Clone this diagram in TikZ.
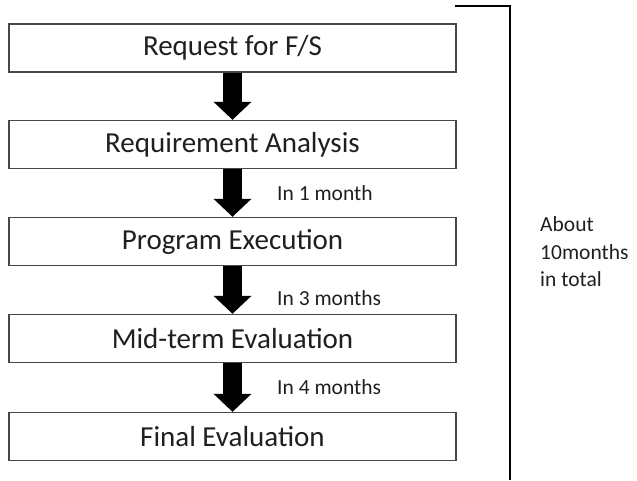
\documentclass[tikz,border=0pt]{standalone}
\usepackage{fontspec}
\setmainfont{Carlito}
\usetikzlibrary{arrows.meta}

\tikzset{
  stagebox/.style={draw=black!72, line width=1.4pt, fill=white,
    minimum width=447pt, minimum height=48pt, inner sep=0pt,
    font=\fontsize{29}{34}\selectfont, text=black!88},
  flowarrow/.style={line width=19pt, black,
    -{Triangle[width=37pt,length=18pt]}},
  duration/.style={anchor=west, inner sep=0pt,
    font=\fontsize{21.5}{26}\selectfont, text=black!88},
  bracketline/.style={line width=1.4pt, black}
}

\begin{document}
\begin{tikzpicture}[x=1pt,y=-1pt]
  \useasboundingbox (0,0) rectangle (637,480);

  % process stages
  \node[stagebox] (req)  at (232.5,48)    {Request for F/S};
  \node[stagebox] (ana)  at (232.5,144.5) {Requirement Analysis};
  \node[stagebox] (exe)  at (232.5,241.5) {Program Execution};
  \node[stagebox] (mid)  at (232.5,338.5) {Mid-term Evaluation};
  \node[stagebox] (fin)  at (232.5,436.5) {Final Evaluation};

  % block arrows between stages
  \draw[flowarrow] (req.south) -- (ana.north);
  \draw[flowarrow] (ana.south) -- (exe.north);
  \draw[flowarrow] (exe.south) -- (mid.north);
  \draw[flowarrow] (mid.south) -- (fin.north);

  % durations
  \node[duration] (d1) at (277,193) {In 1 month};
  \node[duration] (d2) at (277,298) {In 3 months};
  \node[duration] (d3) at (277,387) {In 4 months};

  % total-span bracket
  \coordinate (btl) at (455,6);
  \coordinate (btr) at (510,6);
  \coordinate (bbot) at (510,480);
  \draw[bracketline] (btl) -- (btr) -- (bbot);

  \node[anchor=west, inner sep=0pt, align=left,
        font=\fontsize{21.5}{27.5}\selectfont, text=black!88]
        (total) at (540,252) {About\\10months\\in total};
\end{tikzpicture}
\end{document}
